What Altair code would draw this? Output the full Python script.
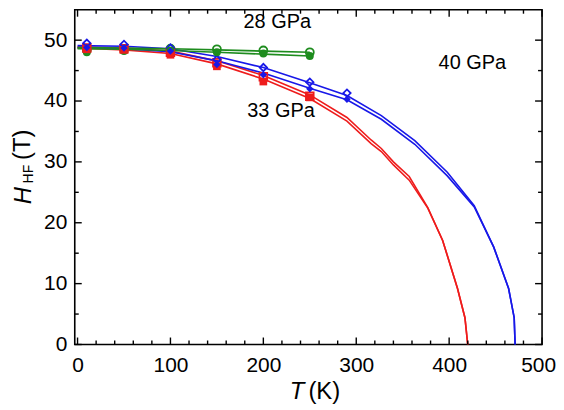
import altair as alt
import pandas as pd

FONT = "Liberation Sans"
RED = "#ee1c1c"
BLUE = "#1818e8"
GREEN = "#1e8c1e"

W = 469
H = 336

# ---- fitted curves (two per pressure) ----
red1_T = [0, 50, 100, 150, 200, 250, 290, 316, 327, 340, 357, 377, 393, 409, 417, 420]
red1_H = [48.9, 48.7, 48.2, 46.6, 44.2, 41.0, 37.3, 33.6, 32.2, 30.0, 27.6, 22.5, 17.1, 9.2, 4.4, 0]
red2_T = [0, 50, 100, 150, 200, 250, 290, 316, 327, 340, 357, 377, 393, 409, 417, 420]
red2_H = [48.7, 48.4, 47.8, 46.1, 43.6, 40.4, 36.7, 33.0, 31.7, 29.5, 27.0, 22.4, 17.1, 9.2, 4.4, 0]

blue1_T = [0, 50, 100, 150, 200, 250, 290, 327, 363, 398, 427, 448, 464, 470, 471]
blue1_H = [49.1, 49.0, 48.6, 47.3, 45.5, 43.0, 40.9, 37.6, 33.5, 28.3, 22.8, 16.0, 9.2, 4.4, 0]
blue2_T = [0, 50, 100, 150, 200, 250, 290, 327, 363, 398, 427, 448, 464, 470, 471]
blue2_H = [48.8, 48.6, 48.1, 46.6, 44.6, 42.1, 40.2, 37.0, 32.9, 27.7, 22.6, 16.0, 9.2, 4.4, 0]

green1_T = [0, 50, 100, 150, 200, 250]
green1_H = [48.8, 48.7, 48.6, 48.4, 48.2, 48.0]
green2_T = [0, 50, 100, 150, 200, 250]
green2_H = [48.6, 48.5, 48.3, 48.0, 47.7, 47.4]

# ---- measured points ----
green_T = [10, 50, 100, 150, 200, 250]
green_open_H = [48.4, 48.5, 48.6, 48.5, 48.3, 48.0]
green_fill_H = [48.0, 48.2, 48.3, 48.0, 47.8, 47.4]

blue_T = [10, 50, 100, 150, 200, 250, 290]
blue_open_H = [49.5, 49.3, 48.7, 46.8, 45.5, 43.1, 41.3]
blue_fill_H = [48.8, 48.7, 48.2, 46.0, 44.3, 42.0, 40.3]

red_T = [10, 50, 100, 150, 200, 250]
red_open_H = [48.7, 48.6, 48.0, 46.3, 44.0, 40.8]
red_fill_H = [48.5, 48.4, 47.6, 45.7, 43.2, 40.6]

# ---- annotations ----
ann_text = ["28 GPa", "40 GPa", "33 GPa"]
ann_T = [215.0, 425.0, 219.0]
ann_H = [53.0, 46.3, 38.3]

# ---- ticks ----
x_major = [0, 100, 200, 300, 400, 500]
x_minor = [v for v in range(20, 500, 20) if v % 100 != 0]
y_major = [0, 10, 20, 30, 40, 50]
y_minor = [5, 15, 25, 35, 45]

sets = ["28", "33", "40"]
set_colors = [GREEN, RED, BLUE]
set_shapes = ["circle", "square", "diamond"]
set_sizes = [64, 55, 110]

rows = []
for name, s, Ts, Hs in [("r1", "33", red1_T, red1_H), ("r2", "33", red2_T, red2_H),
                        ("b1", "40", blue1_T, blue1_H), ("b2", "40", blue2_T, blue2_H),
                        ("g1", "28", green1_T, green1_H), ("g2", "28", green2_T, green2_H)]:
    for i, (t, h) in enumerate(zip(Ts, Hs)):
        rows.append({"curve": name, "set": s, "T": t, "H": h, "i": i})
curves = pd.DataFrame(rows)

prow = []
for s, Ts, Ho, Hf in [("28", green_T, green_open_H, green_fill_H),
                      ("33", red_T, red_open_H, red_fill_H),
                      ("40", blue_T, blue_open_H, blue_fill_H)]:
    for t, ho, hf in zip(Ts, Ho, Hf):
        prow.append({"set": s, "T": t, "H": ho, "kind": "open"})
        prow.append({"set": s, "T": t, "H": hf, "kind": "filled"})
pts = pd.DataFrame(prow)

ann = pd.DataFrame({"label": ann_text, "T": ann_T, "H": ann_H})

xs = alt.Scale(domain=[-3, 500], nice=False, zero=False)
ys = alt.Scale(domain=[0, 55], nice=False, zero=False)
cs = alt.Scale(domain=sets, range=set_colors)
ss = alt.Scale(domain=sets, range=set_shapes)
zs = alt.Scale(domain=sets, range=set_sizes)

xaxis = alt.Axis(values=x_major, ticks=False, domain=False, grid=False, title=None,
                 labelFlush=False, labelOverlap=False,
                 labelFont=FONT, labelFontSize=21, labelColor="black", labelPadding=10,
                 labelOffset={"condition": {"test": "datum.value === 500", "value": -4}, "value": 0})
yaxis = alt.Axis(values=y_major, ticks=False, domain=False, grid=False, title=None,
                 labelFlush=False, labelOverlap=False,
                 labelFont=FONT, labelFontSize=21, labelColor="black", labelPadding=8)

lines = alt.Chart(curves).mark_line(strokeWidth=1.6).encode(
    x=alt.X("T:Q", scale=xs, axis=xaxis),
    y=alt.Y("H:Q", scale=ys, axis=yaxis),
    color=alt.Color("set:N", scale=cs, legend=None),
    detail="curve:N",
    order="i:Q",
)

open_pts = alt.Chart(pts).transform_filter("datum.kind === 'open'").mark_point(
    filled=False, strokeWidth=1.8, opacity=1).encode(
    x=alt.X("T:Q", scale=xs), y=alt.Y("H:Q", scale=ys),
    color=alt.Color("set:N", scale=cs, legend=None),
    shape=alt.Shape("set:N", scale=ss, legend=None),
    size=alt.Size("set:N", scale=zs, legend=None),
)
fill_pts = alt.Chart(pts).transform_filter("datum.kind === 'filled'").mark_point(
    filled=True, opacity=1).encode(
    x=alt.X("T:Q", scale=xs), y=alt.Y("H:Q", scale=ys),
    color=alt.Color("set:N", scale=cs, legend=None),
    shape=alt.Shape("set:N", scale=ss, legend=None),
    size=alt.Size("set:N", scale=zs, legend=None),
)

labels = alt.Chart(ann).mark_text(font=FONT, fontSize=20, color="black",
                                  align="center", baseline="middle").encode(
    x=alt.X("T:Q", scale=xs), y=alt.Y("H:Q", scale=ys), text="label:N")

def xticks(vals, length):
    df = pd.DataFrame({"v": vals})
    base = alt.Chart(df).mark_rule(color="black", strokeWidth=1.4)
    bot = base.encode(x=alt.X("v:Q", scale=xs), y=alt.value(H), y2=alt.value(H - length))
    top = base.encode(x=alt.X("v:Q", scale=xs), y=alt.value(0), y2=alt.value(length))
    return bot + top

def yticks(vals, length):
    df = pd.DataFrame({"v": vals})
    base = alt.Chart(df).mark_rule(color="black", strokeWidth=1.4)
    left = base.encode(y=alt.Y("v:Q", scale=ys), x=alt.value(0), x2=alt.value(length))
    right = base.encode(y=alt.Y("v:Q", scale=ys), x=alt.value(W), x2=alt.value(W - length))
    return left + right

def txt(s, x, y, size, angle=0, style="normal", baseline="alphabetic"):
    return alt.Chart(pd.DataFrame({"t": [s]})).mark_text(
        font=FONT, fontSize=size, fontStyle=style, angle=angle, color="black",
        align="center", baseline=baseline).encode(
        x=alt.value(x), y=alt.value(y), text="t:N")

ytitle = (txt("H", -44, 186.5, 24, 270, "italic")
          + txt("HF", -42, 165, 14, 270)
          + txt("(T)", -45, 135.5, 24, 270))
xtitle = (txt("T", 223, H + 48, 24, 0, "italic", "middle")
          + txt("(K)", 250.5, H + 48, 24, 0, "normal", "middle"))

chart = alt.layer(
    lines, open_pts, fill_pts, labels,
    xticks(x_major, 7), xticks(x_minor, 4),
    yticks(y_major, 7), yticks(y_minor, 4),
    ytitle, xtitle,
).properties(width=W, height=H, padding={"left": 3, "top": 0, "right": 0, "bottom": 0},
             background="white").configure_view(
    stroke="black", strokeWidth=1.6
)

chart.save("out.html", embed_options={"renderer": "svg", "actions": False})
